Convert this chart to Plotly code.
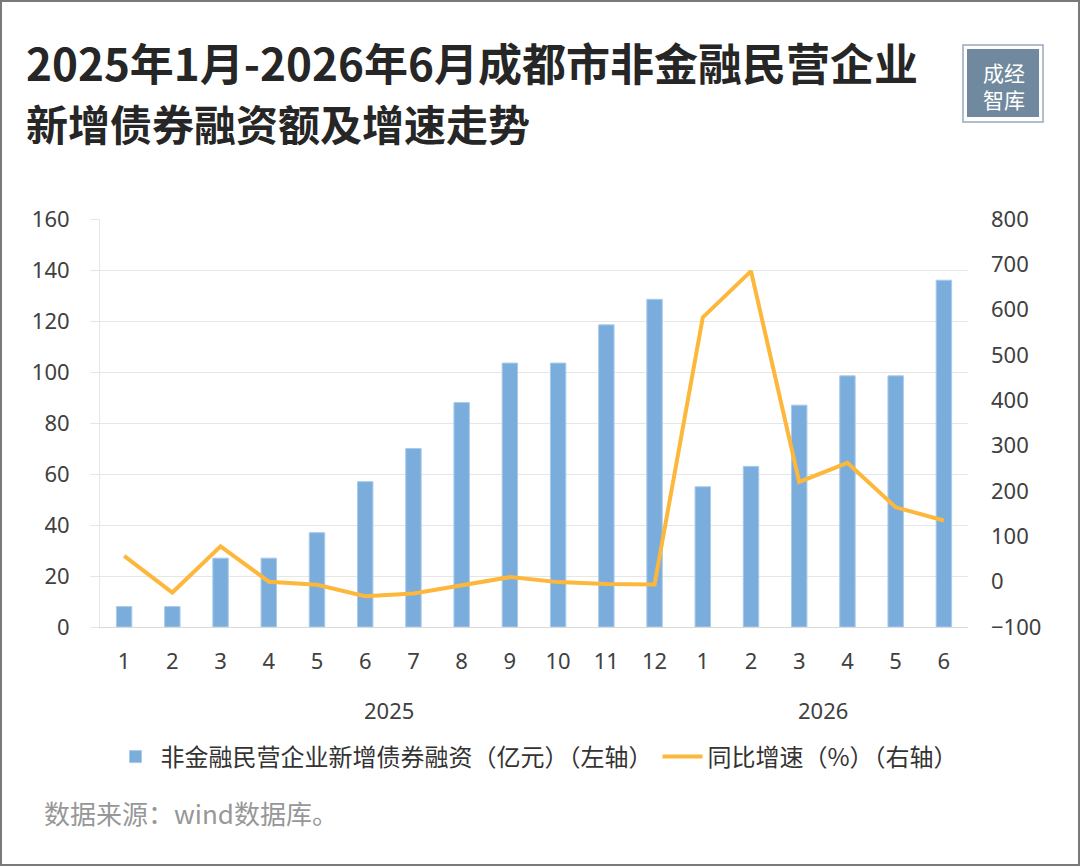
import plotly.graph_objects as go

# ---------------- data ----------------
years = ["2025"] * 12 + ["2026"] * 6
months = ["1", "2", "3", "4", "5", "6", "7", "8", "9", "10", "11", "12",
          "1", "2", "3", "4", "5", "6"]
bond_financing = [8, 8, 27, 27, 37, 57, 70, 88, 103.5, 103.5, 118.5, 128.5,
                  55, 63, 87, 98.5, 98.5, 136]          # 亿元 (left axis)
yoy_growth = [57, -24, 78, 0, -7, -32, -26, -7, 10, -1, -5, -6,
              583, 685, 220, 262, 164, 135]               # % (right axis)
left_ticks = [0, 20, 40, 60, 80, 100, 120, 140, 160]
right_ticks = [-100, 0, 100, 200, 300, 400, 500, 600, 700, 800]
year_labels = ["2025", "2026"]

bar_name = "非金融民营企业新增债券融资（亿元）（左轴）"
line_name = "同比增速（%）（右轴）"
title1 = "2025年1月-2026年6月成都市非金融民营企业"
title2 = "新增债券融资额及增速走势"
source = "数据来源：wind数据库。"
logo_text = "成经<br>智库"

x_keys = [f"{y}-{m}" for y, m in zip(years, months)]

# ---------------- layout geometry ----------------
W, H = 1080, 866
PL, PR, PT, PB = 100, 968, 219, 627


def px2x(px):
    return (px - PL) / (PR - PL)


def px2y(py):
    return (PB - py) / (PB - PT)


CJK = "Noto Sans CJK SC"
NUM = "Noto Sans"
GRID = "#E6E6E6"

fig = go.Figure()
fig.add_trace(go.Bar(
    x=x_keys, y=bond_financing, name=bar_name,
    marker=dict(color="#7AADDC", line=dict(color="#A9CBEA", width=1)),
    width=0.32, yaxis="y",
))
fig.add_trace(go.Scatter(
    x=x_keys, y=yoy_growth, name=line_name, mode="lines",
    line=dict(color="#FDB73B", width=4), yaxis="y2",
))

annotations = []
# year group labels
for yl in year_labels:
    idx = [i for i, y in enumerate(years) if y == yl]
    annotations.append(dict(
        x=(idx[0] + idx[-1]) / 2, y=px2y(710), xref="x", yref="paper",
        text=yl, showarrow=False, xanchor="center", yanchor="middle",
        font=dict(family=NUM, size=22, color="#404040"),
    ))
# titles
annotations.append(dict(
    x=px2x(24), y=px2y(62), xref="paper", yref="paper", text=title1,
    showarrow=False, xanchor="left", yanchor="middle",
    font=dict(family=CJK, size=44, color="#262626", weight="bold"),
))
annotations.append(dict(
    x=px2x(24), y=px2y(123), xref="paper", yref="paper", text=title2,
    showarrow=False, xanchor="left", yanchor="middle",
    font=dict(family=CJK, size=42, color="#262626", weight="bold"),
))
# source
annotations.append(dict(
    x=px2x(42), y=px2y(812), xref="paper", yref="paper", text=source,
    showarrow=False, xanchor="left", yanchor="middle",
    font=dict(family=CJK, size=26, color="#979797"),
))
# logo text
annotations.append(dict(
    x=px2x(1004), y=px2y(85), xref="paper", yref="paper", text=logo_text,
    showarrow=False, xanchor="center", yanchor="middle", align="center",
    font=dict(family=CJK, size=21, color="white"),
))

shapes = [
    # outer page border
    dict(type="rect", xref="paper", yref="paper",
         x0=px2x(1), x1=px2x(1079), y0=px2y(1), y1=px2y(865),
         line=dict(color="#7A7A7A", width=2), fillcolor="rgba(0,0,0,0)", layer="below"),
    # logo block
    dict(type="rect", xref="paper", yref="paper",
         x0=px2x(967), x1=px2x(1039), y0=px2y(49), y1=px2y(117),
         line=dict(width=0), fillcolor="#71899E", layer="above"),
    dict(type="rect", xref="paper", yref="paper",
         x0=px2x(963), x1=px2x(1043), y0=px2y(45), y1=px2y(122),
         line=dict(color="#95A9B9", width=1.5), fillcolor="rgba(0,0,0,0)", layer="above"),
]

fig.update_layout(
    width=W, height=H,
    margin=dict(l=PL, r=W - PR, t=PT, b=H - PB, pad=0),
    paper_bgcolor="white", plot_bgcolor="white",
    showlegend=True,
    legend=dict(
        orientation="h", x=px2x(537), y=px2y(757), xanchor="center", yanchor="middle",
        font=dict(family=CJK, size=24, color="#333333"),
        itemwidth=40, traceorder="normal",
    ),
    xaxis=dict(
        type="category", tickmode="array", tickvals=x_keys, ticktext=months,
        ticks="", showline=True, linecolor="#D9D9D9", linewidth=1,
        showgrid=False, ticklabelstandoff=15,
        tickfont=dict(family=NUM, size=22, color="#404040"),
        range=[-0.5, len(x_keys) - 0.5],
    ),
    yaxis=dict(
        range=[left_ticks[0], left_ticks[-1]], tickmode="array", tickvals=left_ticks,
        showgrid=True, gridcolor=GRID, gridwidth=1,
        ticks="outside", ticklen=9, tickcolor=GRID,
        showline=True, linecolor=GRID, zeroline=False,
        ticklabelstandoff=16,
        tickfont=dict(family=NUM, size=22, color="#404040"),
    ),
    yaxis2=dict(
        range=[right_ticks[0], right_ticks[-1]], tickmode="array", tickvals=right_ticks,
        overlaying="y", side="right", showgrid=False, zeroline=False,
        ticks="", showline=False, ticklabelstandoff=22,
        tickfont=dict(family=NUM, size=22, color="#404040"),
    ),
    annotations=annotations,
    shapes=shapes,
)

fig.write_html("out.html")
